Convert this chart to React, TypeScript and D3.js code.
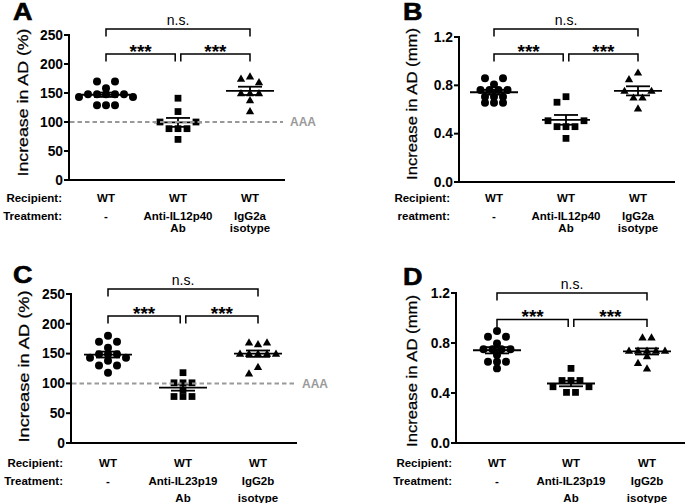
import React from "react";
import * as d3 from "d3";

// ---------- data ----------
const recipientLabels = ["WT", "WT", "WT"];
const treatmentsIL12 = [["-"], ["Anti-IL12p40", "Ab"], ["IgG2a", "isotype"]];
const treatmentsIL23 = [["-"], ["Anti-IL23p19", "Ab"], ["IgG2b", "isotype"]];
const pctTicks = [0, 50, 100, 150, 200, 250];
const mmTicks = [0, 0.4, 0.8, 1.2];
const nsLabel = "n.s.";
const sigLabel = "***";
const refLabel = "AAA";

// Panel A (% increase, anti-IL12p40)
const aControl = [170, 170, 158, 148, 148, 148, 148, 148, 143, 143, 129, 129, 129];
const aAnti = [141, 118, 100, 100, 88.5, 88.5, 88.5, 70];
const aIso = [179, 175, 169, 150, 150, 150, 138, 119];
// Panel B (mm, anti-IL12p40)
const bControl = [0.858, 0.858, 0.808, 0.761, 0.761, 0.761, 0.761, 0.706, 0.706, 0.706, 0.656, 0.656, 0.656];
const bAnti = [0.706, 0.66, 0.507, 0.507, 0.458, 0.458, 0.458, 0.361];
const bIso = [0.907, 0.852, 0.756, 0.756, 0.7, 0.7, 0.61];
// Panel C (% increase, anti-IL23p19)
const cControl = [180, 170, 170, 160, 149, 149, 149, 143, 143, 138, 130, 130, 118];
const cAnti = [118, 101, 101, 101, 89, 78, 78, 78];
const cIso = [169, 169, 166, 150, 150, 150, 150, 150, 128, 117];
// Panel D (mm, anti-IL23p19)
const dControl = [0.896, 0.85, 0.85, 0.797, 0.75, 0.75, 0.75, 0.75, 0.704, 0.65, 0.65, 0.65, 0.597];
const dAnti = [0.597, 0.5, 0.5, 0.5, 0.45, 0.45, 0.405, 0.405];
const dIso = [0.845, 0.845, 0.74, 0.74, 0.74, 0.74, 0.74, 0.696, 0.642, 0.597];

const FONT = "'Liberation Sans', Arial, Helvetica, sans-serif";

// column-scatter layout (GraphPad-like)
function swarm(values: number[], py: (v: number) => number, slot = 9, minDy = 7, minDx = 8): number[] {
  const out = new Array(values.length).fill(0);
  const placed: { x: number; y: number }[] = [];
  const hit = (x: number, yy: number) =>
    placed.some((p) => Math.abs(p.y - yy) < minDy && Math.abs(p.x - x) < minDx);
  const rows = Array.from(
    d3.group(values.map((_, i) => i), (i) => values[i]),
    ([v, idx]) => ({ v: v as number, idx: idx as number[] })
  );
  const singles = rows.filter((r) => r.idx.length === 1).sort((a, b) => b.v - a.v);
  const bigs = rows.filter((r) => r.idx.length >= 3);
  const pairs = rows.filter((r) => r.idx.length === 2).sort((a, b) => a.v - b.v);
  for (const r of singles) {
    const yy = py(r.v);
    let x = 0;
    for (const k of [0, -1, 1, -2, 2, -3, 3]) {
      if (!hit(k * slot, yy)) { x = k * slot; break; }
    }
    out[r.idx[0]] = x;
    placed.push({ x, y: yy });
  }
  for (const r of bigs) {
    const yy = py(r.v);
    const n = r.idx.length;
    r.idx.forEach((i, j) => {
      const x = (j - (n - 1) / 2) * slot;
      out[i] = x;
      placed.push({ x, y: yy });
    });
  }
  for (const r of pairs) {
    const yy = py(r.v);
    let m = 0.5 * slot;
    for (const k of [0.5, 1, 1.5, 2, 2.5, 3, 3.5]) {
      if (!hit(-k * slot, yy) && !hit(k * slot, yy)) { m = k * slot; break; }
    }
    out[r.idx[0]] = -m;
    out[r.idx[1]] = m;
    placed.push({ x: -m, y: yy }, { x: m, y: yy });
  }
  return out;
}

interface Cfg {
  letter: string;
  letterX: number;
  letterY: number;
  x0: number;
  xEnd: number;
  y0: number;
  yTop: number;
  max: number;
  ticks: number[];
  fmt: (v: number) => string;
  groups: number[][];
  centers: number[];
  nsY: number;
  innerY: number;
  ylabel: string;
  ylabelX: number;
  ylabelY: number;
  ylabelLen: number;
  labelRight: number;
  rows: number[];
  treatLabel: string;
  treatments: string[][];
  dashed: boolean;
}

const fmtPct = d3.format("d");
const fmtMm = d3.format(".1f");

const panels: Cfg[] = [
  {
    letter: "A", letterX: 13, letterY: 20,
    x0: 69, xEnd: 285, y0: 180, yTop: 35, max: 250, ticks: pctTicks, fmt: fmtPct,
    groups: [aControl, aAnti, aIso], centers: [106, 178, 250],
    nsY: 29, innerY: 54,
    ylabel: "Increase in AD (%)", ylabelX: 28, ylabelY: 102.5, ylabelLen: 148,
    labelRight: 62, rows: [201.5, 220, 231.5], treatLabel: "Treatment:", treatments: treatmentsIL12, dashed: true,
  },
  {
    letter: "B", letterX: 403, letterY: 19.5,
    x0: 459, xEnd: 675, y0: 182, yTop: 37, max: 1.2, ticks: mmTicks, fmt: fmtMm,
    groups: [bControl, bAnti, bIso], centers: [494, 566, 638],
    nsY: 29, innerY: 54,
    ylabel: "Increase in AD (mm)", ylabelX: 417, ylabelY: 104, ylabelLen: 152,
    labelRight: 450, rows: [201.5, 220, 231.5], treatLabel: "reatment:", treatments: treatmentsIL12, dashed: false,
  },
  {
    letter: "C", letterX: 13, letterY: 283,
    x0: 71, xEnd: 297, y0: 443, yTop: 294, max: 250, ticks: pctTicks, fmt: fmtPct,
    groups: [cControl, cAnti, cIso], centers: [108, 183, 258],
    nsY: 289, innerY: 316,
    ylabel: "Increase in AD (%)", ylabelX: 28.5, ylabelY: 366.5, ylabelLen: 152,
    labelRight: 63, rows: [466.5, 485, 501.5], treatLabel: "Treatment:", treatments: treatmentsIL23, dashed: true,
  },
  {
    letter: "D", letterX: 403, letterY: 285,
    x0: 456, xEnd: 685, y0: 443, yTop: 293, max: 1.2, ticks: mmTicks, fmt: fmtMm,
    groups: [dControl, dAnti, dIso], centers: [497, 571, 647],
    nsY: 293, innerY: 319.5,
    ylabel: "Increase in AD (mm)", ylabelX: 417, ylabelY: 371, ylabelLen: 152,
    labelRight: 452, rows: [466.5, 485, 501.5], treatLabel: "Treatment:", treatments: treatmentsIL23, dashed: false,
  },
];

const symbolTypes = [d3.symbolCircle, d3.symbolSquare, d3.symbolTriangle];
const symbolSizes = [50, 46, 30];

function Panel({ c }: { c: Cfg }) {
  const y = d3.scaleLinear().domain([0, c.max]).range([c.y0, c.yTop]);
  const legY = 7.5;
  const gap = 2.8;
  const [g1, g2, g3] = c.centers;
  const bracket = (xa: number, xb: number, yy: number) =>
    `M${xa},${yy + legY}V${yy}H${xb}V${yy + legY}`;
  return (
    <g>
      {/* panel letter */}
      <text x={c.letterX} y={c.letterY} fontFamily={FONT} fontWeight="bold" fontSize={23}
        textLength={19.5} lengthAdjust="spacingAndGlyphs" stroke="#000" strokeWidth={0.6}>{c.letter}</text>
      {/* y label */}
      <text transform={`translate(${c.ylabelX},${c.ylabelY}) rotate(-90)`} textAnchor="middle"
        fontFamily={FONT} fontSize={14.8} textLength={c.ylabelLen} lengthAdjust="spacingAndGlyphs"
        stroke="#000" strokeWidth={0.25}>{c.ylabel}</text>
      {/* axes */}
      <line x1={c.x0} x2={c.x0} y1={c.y0 + 1} y2={c.yTop - 1} stroke="#000" strokeWidth={2} />
      <line x1={c.x0 - 1} x2={c.xEnd} y1={c.y0} y2={c.y0} stroke="#000" strokeWidth={2} />
      {c.ticks.map((t) => (
        <g key={t}>
          <line x1={c.x0 - 5} x2={c.x0} y1={y(t)} y2={y(t)} stroke="#000" strokeWidth={2} />
          <text x={c.x0 - 6} y={y(t) + 4.8} textAnchor="end" fontFamily={FONT} fontWeight="bold" fontSize={13.8}>
            {c.fmt(t)}
          </text>
        </g>
      ))}
      {/* brackets */}
      <path d={bracket(g1, g3, c.nsY)} fill="none" stroke="#000" strokeWidth={1.5} />
      <path d={bracket(g1, g2 - gap, c.innerY)} fill="none" stroke="#000" strokeWidth={1.5} />
      <path d={bracket(g2 + gap, g3, c.innerY)} fill="none" stroke="#000" strokeWidth={1.5} />
      <text x={(g1 + g3) / 2} y={c.nsY - 4} textAnchor="middle" fontFamily={FONT} fontSize={14}>{nsLabel}</text>
      <text x={(g1 + g2 - gap) / 2} y={c.innerY + 3.5} textAnchor="middle" fontFamily={FONT} fontWeight="bold" fontSize={19}>{sigLabel}</text>
      <text x={(g2 + gap + g3) / 2} y={c.innerY + 3.5} textAnchor="middle" fontFamily={FONT} fontWeight="bold" fontSize={19}>{sigLabel}</text>
      {/* points + mean/SEM */}
      {c.groups.map((vals, gi) => {
        const cx = c.centers[gi];
        const offs = swarm(vals, (v) => y(v));
        const sym = d3.symbol().type(symbolTypes[gi]).size(symbolSizes[gi])() as string;
        const m = d3.mean(vals) as number;
        const sem = (d3.deviation(vals) as number) / Math.sqrt(vals.length);
        return (
          <g key={gi}>
            {vals.map((v, i) => (
              <path key={i} d={sym} transform={`translate(${cx + offs[i]},${y(v) + (gi === 2 ? 0.8 : 0)})`} fill="#000" />
            ))}
            <line x1={cx - 24} x2={cx + 24} y1={y(m)} y2={y(m)} stroke="#000" strokeWidth={1.8} />
            <line x1={cx - 12} x2={cx + 12} y1={y(m + sem)} y2={y(m + sem)} stroke="#000" strokeWidth={1.8} />
            <line x1={cx - 12} x2={cx + 12} y1={y(m - sem)} y2={y(m - sem)} stroke="#000" strokeWidth={1.8} />
            <line x1={cx} x2={cx} y1={y(m + sem)} y2={y(m - sem)} stroke="#000" strokeWidth={1.8} />
          </g>
        );
      })}
      {c.dashed && (
        <g>
          <line x1={c.x0 + 1} x2={c.xEnd - 2} y1={y(100)} y2={y(100)} stroke="#999" strokeWidth={2} strokeDasharray="4.5,3" />
          <text x={c.xEnd + 5} y={y(100) + 4.3} fontFamily={FONT} fontWeight="bold" fontSize={12} fill="#9a9a9a">{refLabel}</text>
        </g>
      )}
      {/* category labels */}
      <text x={c.labelRight} y={c.rows[0]} textAnchor="end" fontFamily={FONT} fontWeight="bold" fontSize={11.5}>Recipient:</text>
      <text x={c.labelRight} y={c.rows[1]} textAnchor="end" fontFamily={FONT} fontWeight="bold" fontSize={11.5}>{c.treatLabel}</text>
      {c.centers.map((cx, gi) => (
        <g key={gi} fontFamily={FONT} fontWeight="bold" fontSize={11.5} textAnchor="middle">
          <text x={cx} y={c.rows[0]}>{recipientLabels[gi]}</text>
          {c.treatments[gi].map((t, li) => (
            <text key={li} x={cx} y={c.rows[1 + li]}>{t}</text>
          ))}
        </g>
      ))}
    </g>
  );
}

export default function App() {
  return (
    <svg width={685} height={503} viewBox="0 0 685 503"
      style={{ position: "absolute", left: 0, top: 0, background: "#fff" }}>
      <rect width={685} height={503} fill="#fff" />
      {panels.map((c) => (
        <Panel key={c.letter} c={c} />
      ))}
    </svg>
  );
}
